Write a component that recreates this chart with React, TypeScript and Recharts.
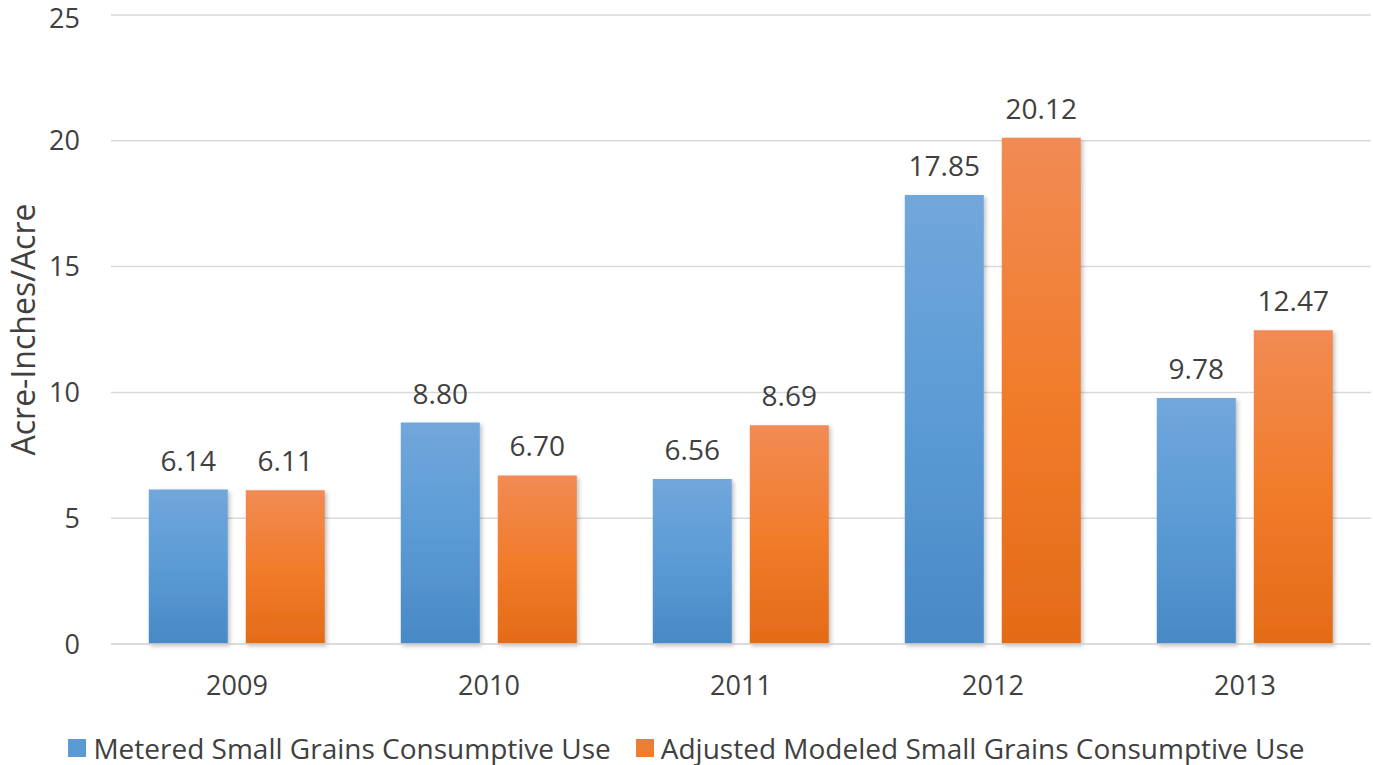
import React from "react";
import {
  BarChart,
  Bar,
  XAxis,
  YAxis,
  CartesianGrid,
  Legend,
  LabelList,
} from "recharts";

const YEARS = ["2009", "2010", "2011", "2012", "2013"];
const METERED = [6.14, 8.8, 6.56, 17.85, 9.78];
const ADJUSTED = [6.11, 6.7, 8.69, 20.12, 12.47];
const Y_TICKS = [0, 5, 10, 15, 20, 25];

const SERIES = [
  { key: "metered", name: "Metered Small Grains Consumptive Use", fill: "url(#gradBlue)", swatch: "#5b9bd5" },
  { key: "adjusted", name: "Adjusted Modeled Small Grains Consumptive Use", fill: "url(#gradOrange)", swatch: "#ed7d31" },
];

const FONT = "'Open Sans', 'DejaVu Sans', sans-serif";
const TEXT = "#404040";

const data = YEARS.map((year, i) => ({
  year,
  metered: METERED[i],
  adjusted: ADJUSTED[i],
}));

function LegendContent() {
  return (
    <div
      style={{
        display: "flex",
        justifyContent: "center",
        gap: 25,
        fontFamily: FONT,
        fontSize: 28,
        color: TEXT,
        lineHeight: "40px",
      }}
    >
      {SERIES.map((s) => (
        <div key={s.key} style={{ display: "flex", alignItems: "center" }}>
          <span
            style={{
              width: 18,
              height: 18,
              background: s.swatch,
              display: "inline-block",
              marginRight: 7,
            }}
          />
          <span>{s.name}</span>
        </div>
      ))}
    </div>
  );
}

function YLabel(props: any) {
  const vb = props.viewBox || {};
  const cx = 22;
  const cy = vb.y + vb.height / 2;
  return (
    <text
      x={cx}
      y={cy}
      transform={`rotate(-90 ${cx} ${cy})`}
      textAnchor="middle"
      dominantBaseline="central"
      fontFamily={FONT}
      fontSize={32}
      fill={TEXT}
    >
      Acre-Inches/Acre
    </text>
  );
}

export default function App() {
  return (
    <div style={{ position: "absolute", left: 0, top: 0, background: "#fff" }}>
      <BarChart
        width={1373}
        height={765}
        data={data}
        margin={{ top: 15, right: 2, left: 0, bottom: 0 }}
        barCategoryGap="15%"
        barGap={18}
      >
        <defs>
          <linearGradient id="gradBlue" x1="0" y1="0" x2="0" y2="1">
            <stop offset="0%" stopColor="#71a7db" />
            <stop offset="50%" stopColor="#5b9bd5" />
            <stop offset="100%" stopColor="#4889c6" />
          </linearGradient>
          <linearGradient id="gradOrange" x1="0" y1="0" x2="0" y2="1">
            <stop offset="0%" stopColor="#f18b54" />
            <stop offset="50%" stopColor="#f17c2b" />
            <stop offset="100%" stopColor="#e46b17" />
          </linearGradient>
          <filter id="barShadow" x="-10%" y="-10%" width="130%" height="120%">
            <feDropShadow dx="2" dy="2" stdDeviation="2" floodColor="#000" floodOpacity="0.25" />
          </filter>
        </defs>
        <CartesianGrid vertical={false} stroke="#d9d9d9" strokeWidth={1.5} />
        <XAxis
          dataKey="year"
          axisLine={{ stroke: "#d9d9d9", strokeWidth: 1.5 }}
          tickLine={false}
          tickSize={0}
          tickMargin={32}
          tick={{ fill: TEXT, fontSize: 27, fontFamily: FONT }}
          height={121}
        />
        <YAxis
          domain={[0, 25]}
          ticks={Y_TICKS}
          width={111}
          axisLine={false}
          tickLine={false}
          tickSize={0}
          tickMargin={31}
          tick={{ fill: TEXT, fontSize: 27, fontFamily: FONT }}
          label={<YLabel />}
        />
        <Legend
          content={<LegendContent />}
          verticalAlign="middle"
          layout="horizontal"
          wrapperStyle={{ left: 0, width: 1373, height: 40, top: 728 }}
        />
        {SERIES.map((s) => (
          <Bar
            key={s.key}
            dataKey={s.key}
            name={s.name}
            fill={s.fill}
            filter="url(#barShadow)"
            isAnimationActive={false}
          >
            <LabelList
              dataKey={s.key}
              position="top"
              offset={19}
              formatter={(v: any) => Number(v).toFixed(2)}
              style={{ fill: TEXT, fontSize: 28, fontFamily: FONT }}
            />
          </Bar>
        ))}
      </BarChart>
    </div>
  );
}
